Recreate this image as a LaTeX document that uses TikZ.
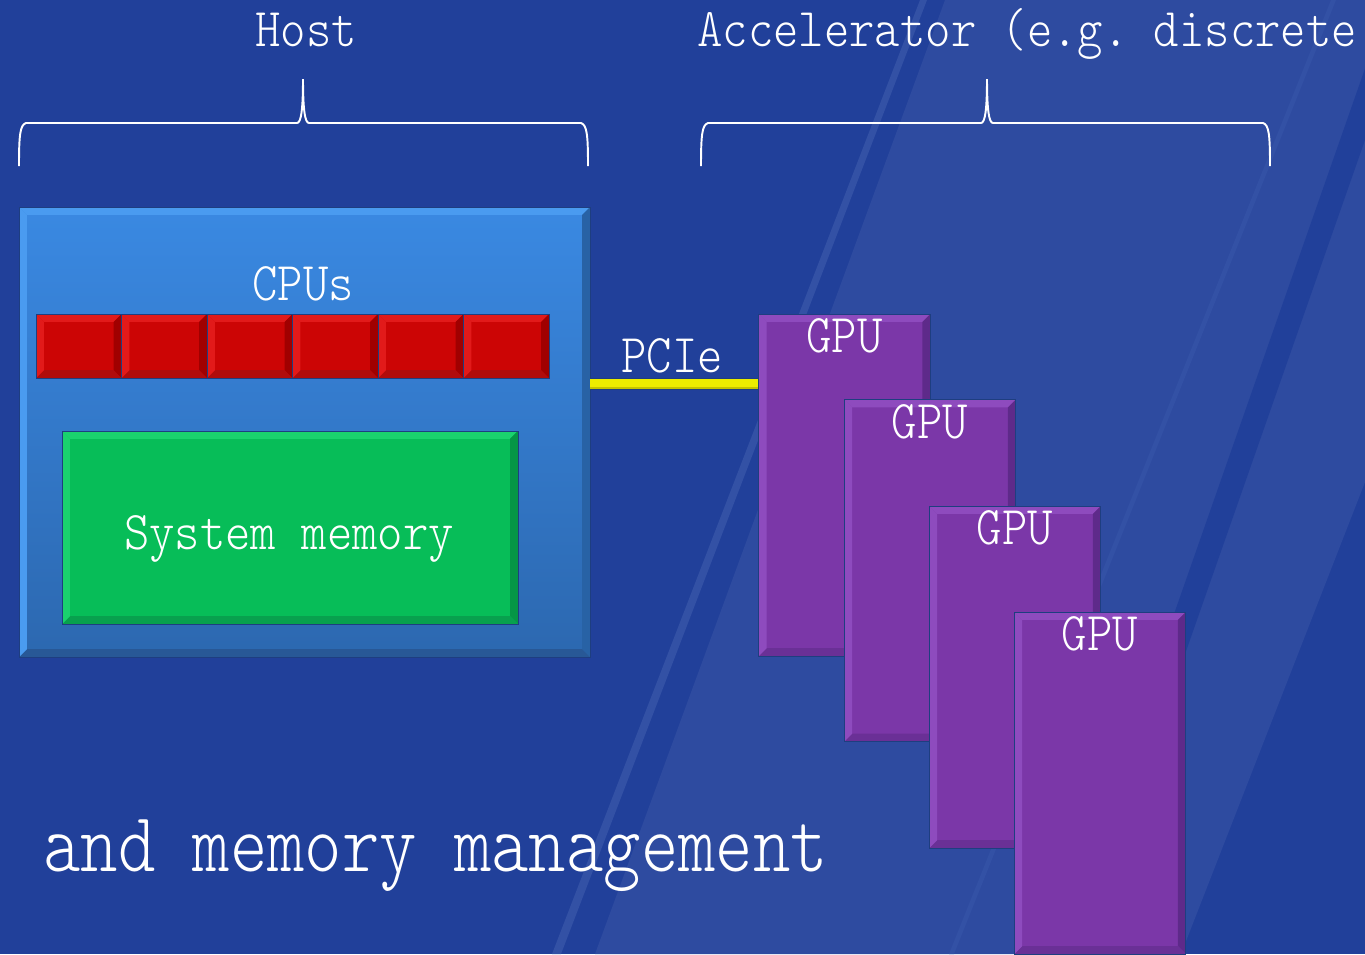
\documentclass[tikz,border=0pt]{standalone}
\usepackage{fontspec}
\setmonofont{lmmonolt10-regular}[Extension=.otf]
\usetikzlibrary{positioning}
\definecolor{bgdark}{RGB}{33,64,154}
\definecolor{bglight}{RGB}{46,75,160}
\definecolor{bgline}{RGB}{51,81,165}
\definecolor{edgeblue}{RGB}{30,62,128}
\definecolor{hostTop}{RGB}{58,137,226}
\definecolor{hostBot}{RGB}{44,104,176}
\definecolor{hostHi}{RGB}{74,155,240}
\definecolor{hostSide}{RGB}{40,98,165}
\definecolor{hostLow}{RGB}{40,88,150}
\definecolor{cpuFace}{RGB}{204,5,5}
\definecolor{cpuHi}{RGB}{226,26,26}
\definecolor{cpuSide}{RGB}{160,0,0}
\definecolor{cpuLow}{RGB}{176,12,12}
\definecolor{memFace}{RGB}{7,189,88}
\definecolor{memHi}{RGB}{26,210,110}
\definecolor{memSide}{RGB}{5,150,70}
\definecolor{memLow}{RGB}{8,160,78}
\definecolor{gpuFace}{RGB}{123,55,168}
\definecolor{gpuHi}{RGB}{142,75,190}
\definecolor{gpuSide}{RGB}{94,42,138}
\definecolor{gpuLow}{RGB}{106,48,150}
\definecolor{pcieFace}{RGB}{236,236,0}
\definecolor{pcieLow}{RGB}{196,196,0}
\newcommand\stretched[1]{\scalebox{1}[1.13]{#1}}
\newcommand\stretchedB[1]{\scalebox{1}[1.19]{#1}}
\def\bw{4.5pt}
\tikzset{
  bevel/.style n args={5}{fill=#1, draw=edgeblue, line width=0.5pt, inner sep=0pt,
    path picture={
      \coordinate (pa) at (path picture bounding box.north west);
      \coordinate (pb) at (path picture bounding box.north east);
      \coordinate (pc) at (path picture bounding box.south east);
      \coordinate (pd) at (path picture bounding box.south west);
      \fill[#2] (pa) -- (pb) -- ([xshift=-\bw,yshift=-\bw]pb) -- ([xshift=\bw,yshift=-\bw]pa) -- cycle;
      \fill[#3] (pb) -- (pc) -- ([xshift=-\bw,yshift=\bw]pc) -- ([xshift=-\bw,yshift=-\bw]pb) -- cycle;
      \fill[#4] (pc) -- (pd) -- ([xshift=\bw,yshift=\bw]pd) -- ([xshift=-\bw,yshift=\bw]pc) -- cycle;
      \fill[#5] (pd) -- (pa) -- ([xshift=\bw,yshift=-\bw]pa) -- ([xshift=\bw,yshift=\bw]pd) -- cycle;
    }},
  hostbox/.style={bevel={hostTop}{hostHi}{hostSide}{hostLow}{hostHi},
    top color=hostTop, bottom color=hostBot, minimum width=11.42cm, minimum height=9cm},
  cpubox/.style={bevel={cpuFace}{cpuHi}{cpuSide}{cpuLow}{cpuHi},
    minimum width=1.71cm, minimum height=1.28cm},
  membox/.style={bevel={memFace}{memHi}{memSide}{memLow}{memHi},
    minimum width=9.12cm, minimum height=3.86cm},
  gpubox/.style={bevel={gpuFace}{gpuHi}{gpuSide}{gpuLow}{gpuHi},
    minimum width=3.43cm, minimum height=6.84cm},
  lbl/.style={text=white, inner sep=0pt, anchor=base,
    font=\ttfamily\fontsize{27.5pt}{30pt}\selectfont},
  biglbl/.style={text=white, inner sep=0pt, anchor=base west,
    font=\ttfamily\fontsize{40.5pt}{45pt}\selectfont},
  brace/.style={draw=white, line width=1.1pt},
  pciebar/.style={draw=edgeblue, line width=0.5pt, double=pcieFace, double distance=6.2pt}
}

\begin{document}
\begin{tikzpicture}[x=0.02cm,y=-0.02cm]
    % backdrop with the slanted bands
    \useasboundingbox (0,0) rectangle (1365,954);
    \clip (0,0) rectangle (1365,954);
    \fill[bgdark] (0,0) rectangle (1365,954);
    \fill[bglight] (945,0) -- (1553,0) -- (1181,954) -- (595,954) -- cycle;
    \fill[bgdark] (1389,0) -- (1414,0) -- (1080,954) -- (1055,954) -- cycle;
    \fill[bgline] (920,0) -- (927,0) -- (561,954) -- (552,954) -- cycle;
    \fill[bgline] (1331,0) -- (1336,0) -- (954,954) -- (949,954) -- cycle;

    % the two braces and their titles
    \foreach \l/\m/\r in {19/303/588, 701/987/1270}
        \draw[brace] (\l,166) .. controls (\l,135) and (\l+1,125) .. (\l+7,123)
            -- (\m-6,123) .. controls (\m-2,123) and (\m,110) .. (\m,79)
            .. controls (\m,110) and (\m+2,123) .. (\m+6,123)
            -- (\r-7,123) .. controls (\r-1,125) and (\r,135) .. (\r,166);
    \node[lbl] (hostlbl) at (306,46) {\stretched{Host}};
    \node[lbl, anchor=base west] (acclbl) at (697,46) {\stretched{Accelerator (e.g. discrete}};

    % host side
    \node[hostbox] (host) at (304.5,432) {};
    \node[lbl] (cpulbl) at (303,300) {\stretched{CPUs}};
    \foreach \i in {0,...,5}
        \node[cpubox] (cpu\i) at ({78.75+85.5*\i},346) {};
    \node[membox] (mem) at (290,527.5) {};
    \node[lbl] (memlbl) at (289,549) {\stretched{System memory}};

    % accelerator side
    \foreach \pos/\name in {{(844.5,485)/gpu1}, {(930,570.5)/gpu2}, {(1015,677)/gpu3}, {(1100,783)/gpu4}} {
        \node[gpubox] (\name) at \pos {};
        \node[lbl] at ([yshift=-22.2pt]\name.north) {\stretched{GPU}};
    }

    % link between the two
    \coordinate (pcie) at (0,384);
    \draw[pciebar] (host.east |- pcie) -- (gpu1.west |- pcie);
    \draw[pcieLow, line width=1.4pt] ([yshift=-2.4pt]host.east |- pcie) -- ([yshift=-2.4pt]gpu1.west |- pcie);
    \node[lbl] (pcielbl) at (672,372) {\stretched{PCIe}};

    \node[biglbl] (mgmt) at (43,871) {\stretchedB{and memory management}};
\end{tikzpicture}
\end{document}
